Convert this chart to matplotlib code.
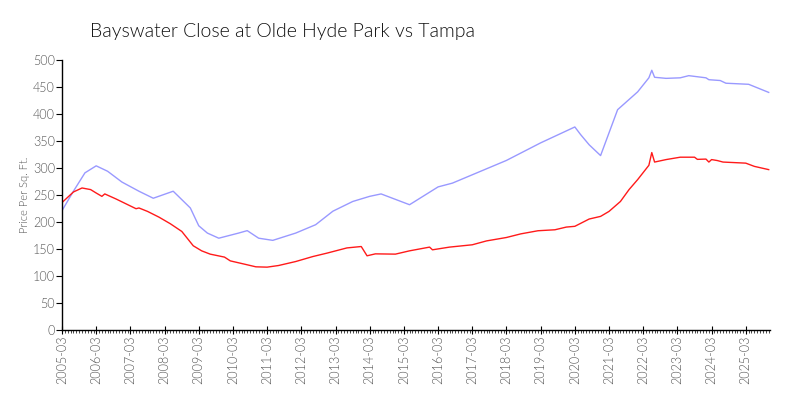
import matplotlib
matplotlib.use("Agg")
import matplotlib.pyplot as plt
import matplotlib.dates as mdates
import pandas as pd

# Bayswater Close (blue) price per sq ft
bayswater_dates = [
    "2005-03", "2005-07", "2005-11", "2006-03", "2006-07", "2006-12", "2007-06", "2007-11",
    "2008-06", "2008-12", "2009-03", "2009-06", "2009-10", "2010-05", "2010-08", "2010-12",
    "2011-05", "2012-01", "2012-08", "2013-02", "2013-09", "2014-03", "2014-07", "2015-05",
    "2016-03", "2016-08", "2018-03", "2019-03", "2020-03", "2020-05", "2020-08", "2020-12",
    "2021-06", "2022-01", "2022-05", "2022-06", "2022-07", "2022-11", "2023-04", "2023-07",
    "2024-01", "2024-02", "2024-06", "2024-08", "2025-04", "2025-11",
]
bayswater_values = [
    221, 257, 291, 304, 294, 274, 257, 244,
    257, 226, 193, 179.5, 170, 179.5, 184, 170,
    166, 179.5, 195, 220, 238, 247.5, 252, 232,
    265, 272, 314, 346.5, 376, 362, 343, 323,
    408, 441, 467, 481, 468, 466, 467, 471,
    467, 463.5, 462, 457, 455, 440,
]

# Tampa (red)
tampa_dates = [
    "2005-03", "2005-07", "2005-10", "2006-01", "2006-03", "2006-05", "2006-06", "2006-10",
    "2007-05", "2007-06", "2007-09", "2008-01", "2008-05", "2008-09", "2009-01", "2009-04",
    "2009-07", "2009-12", "2010-02", "2010-07", "2010-11", "2011-03", "2011-07", "2012-01",
    "2012-07", "2012-12", "2013-07", "2013-12", "2014-02", "2014-05", "2014-12", "2015-05",
    "2015-12", "2016-01", "2016-07", "2017-03", "2017-08", "2018-03", "2018-08", "2019-02",
    "2019-08", "2019-12", "2020-03", "2020-08", "2020-12", "2021-03", "2021-07", "2021-10",
    "2022-01", "2022-05", "2022-06", "2022-07", "2022-11", "2023-04", "2023-09", "2023-10",
    "2024-01", "2024-02", "2024-03", "2024-05", "2024-07", "2025-03", "2025-06", "2025-11",
]
tampa_values = [
    236, 255.6, 263, 260, 253.7, 247.5, 252, 242.5,
    224.6, 226, 219.6, 209, 196.8, 182.5, 156, 146.6,
    140.5, 135, 128, 122, 117, 116.4, 119.4, 126.8,
    136, 142.4, 152, 154.6, 137.4, 141, 140.5, 146.6,
    153.5, 148.5, 153.5, 157.8, 165, 171.3, 178, 183.8,
    185.6, 190.6, 192, 205.5, 210.4, 219.6, 238, 260,
    278.5, 305, 328.6, 311, 315.6, 320, 320, 316,
    316.5, 311, 315.6, 313.8, 311, 309, 303, 297,
]

plt.rcParams["font.family"] = ["Lato", "DejaVu Sans"]
plt.rcParams["font.weight"] = 300

fig = plt.figure(figsize=(8, 4), dpi=100)
ax = fig.add_axes([0.0775, 0.175, 0.885, 0.675])

ax.plot(pd.to_datetime(bayswater_dates), bayswater_values, color="#9999ff", linewidth=1)
ax.plot(pd.to_datetime(tampa_dates), tampa_values, color="#ff1a1a", linewidth=1)

ax.set_ylim(0, 500)
ax.set_yticks(range(0, 501, 50))
ax.set_xlim(pd.Timestamp("2005-03-01"), pd.Timestamp("2025-11-15"))
ax.xaxis.set_major_locator(mdates.MonthLocator(bymonth=3))
ax.xaxis.set_major_formatter(mdates.DateFormatter("%Y-%m"))
ax.xaxis.set_minor_locator(mdates.MonthLocator())

for side in ("top", "right"):
    ax.spines[side].set_visible(False)
for side in ("left", "bottom"):
    ax.spines[side].set_linewidth(1)

ax.tick_params(axis="x", which="major", direction="inout", length=6, labelsize=9,
               labelcolor="#555555", rotation=90, pad=1)
ax.tick_params(axis="x", which="minor", direction="out", length=2, width=0.5)
ax.tick_params(axis="y", which="major", direction="out", length=4, labelsize=9,
               labelcolor="#555555", pad=1)

ax.set_ylabel("Price Per Sq. Ft.", fontsize=8, color="#555555", labelpad=2, fontweight=300)

fig.text(90 / 800, 1 - 31 / 400, "Bayswater Close at Olde Hyde Park vs Tampa",
         fontsize=14, fontweight=300, ha="left", va="center", color="#111111")

fig.savefig("out.png", dpi=100)
